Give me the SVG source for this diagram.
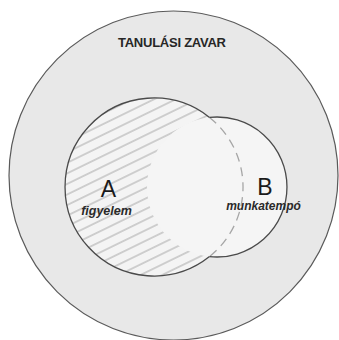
<svg xmlns="http://www.w3.org/2000/svg" width="339" height="340" viewBox="0 0 339 340">
  <defs>
    <pattern id="hatch" patternUnits="userSpaceOnUse" width="20" height="9.5" patternTransform="rotate(-26)">
      <rect width="20" height="9.5" fill="#f4f4f4"/>
      <line x1="0" y1="4.75" x2="20" y2="4.75" stroke="#ababab" stroke-width="1"/>
    </pattern>
    <style>
      .edge { fill: none; stroke: #4a4a4a; stroke-width: 1.3; }
      .dash { fill: none; stroke: #a6a6a6; stroke-width: 1.3; stroke-dasharray: 9 6; }
      .lbl { font-family: "Liberation Sans", Arial, sans-serif; fill: #1a1a1a; text-anchor: middle; }
      .big { font-size: 23px; }
      .sub { font-size: 12.5px; font-weight: bold; font-style: italic; fill: #2a2a2a; }
    </style>
  </defs>
  <rect width="339" height="340" fill="#ffffff"/>

  <g id="tanulasi-zavar">
    <circle cx="173.5" cy="175.5" r="164.5" fill="#e8e8e8" stroke="#5a5a5a" stroke-width="1.2"/>
    <text class="lbl" x="172" y="47" style="font-size:13px;font-weight:bold;fill:#262626" textLength="108">TANULÁSI ZAVAR</text>
  </g>

  <g id="A">
    <circle cx="154" cy="187" r="89" fill="url(#hatch)"/>
  </g>

  <g id="B">
    <circle cx="217" cy="187" r="70" fill="#f5f5f5"/>
  </g>

  <g id="outlines">
    <path class="dash" d="M 209.5 117.4 A 89 89 0 0 1 209.5 256.6"/>
    <path class="edge" d="M 209.5 256.6 A 89 89 0 1 1 209.5 117.4"/>
    <path class="edge" d="M 209.5 117.4 A 70 70 0 1 1 209.5 256.6"/>
  </g>

  <g id="labels">
    <text class="lbl big" x="108.5" y="197">A</text>
    <text class="lbl sub" x="106.5" y="215">figyelem</text>
    <text class="lbl big" x="265" y="195">B</text>
    <text class="lbl sub" x="263.5" y="210" style="font-size:12px">munkatempó</text>
  </g>
</svg>
